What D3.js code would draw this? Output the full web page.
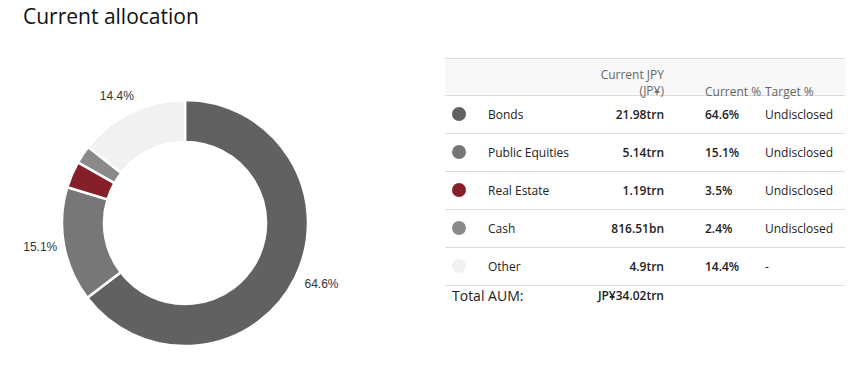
<!DOCTYPE html>
<html><head><meta charset="utf-8">
<script src="https://cdn.jsdelivr.net/npm/d3@7"></script>
<style>
body{margin:0;background:#fff;}
svg{display:block;}
</style></head>
<body><svg id="c" width="868" height="376"></svg>
<script>
const categories = ["Bonds","Public Equities","Real Estate","Cash","Other"];
const percents = [64.6, 15.1, 3.5, 2.4, 14.4];
const jpyValues = ["21.98trn","5.14trn","1.19trn","816.51bn","4.9trn"];
const targets = ["Undisclosed","Undisclosed","Undisclosed","Undisclosed","-"];
const colors = ["#616161","#777777","#85202a","#8a8a8a","#f1f1f1"];
const headers = ["Current JPY","(JP¥)","Current %","Target %"];
const totalLabel = "Total AUM:";
const totalValue = "JP¥34.02trn";
const title = "Current allocation";

const svg = d3.select("#c");
const font = "'Open Sans', 'Noto Sans', sans-serif";

svg.append("text").attr("x",23).attr("y",24).attr("font-family",font)
  .attr("font-size",21).attr("fill","#111").text(title);

// Donut
const cx=185, cy=223, R=123, r0=81;
const data = categories.map((c,i)=>({name:c,value:percents[i],color:colors[i]}));
const pie = d3.pie().sort(null).value(d=>d.value).startAngle(0).endAngle(2*Math.PI);
const arc = d3.arc().innerRadius(r0).outerRadius(R);
const g = svg.append("g").attr("transform",`translate(${cx},${cy})`);
const arcs = pie(data);
g.selectAll("path").data(arcs).join("path")
  .attr("d",arc).attr("fill",d=>d.data.color)
  .attr("stroke","#fff").attr("stroke-width",2.5);

const labelR = 140;
g.selectAll("text.lbl").data(arcs.filter(d=>d.data.value>=10)).join("text")
  .attr("class","lbl")
  .each(function(d){
    const a=(d.startAngle+d.endAngle)/2;
    const x=Math.sin(a)*labelR, y=-Math.cos(a)*labelR;
    const right = x>=0;
    d3.select(this).attr("x", right? x-6 : x+10).attr("y",y)
      .attr("text-anchor", right?"start":"end");
  })
  .attr("dominant-baseline","middle")
  .attr("font-family","'Liberation Sans', Arial, sans-serif")
  .attr("font-size",12).attr("fill","#333")
  .text(d=>d.data.value.toFixed(1)+"%");

// Table
const tx0=445, tx1=845, headTop=58, headBot=95, rowH=38;
svg.append("rect").attr("x",tx0).attr("y",headTop).attr("width",tx1-tx0).attr("height",headBot-headTop)
  .attr("fill","#f8f8f8");
svg.append("line").attr("x1",tx0).attr("x2",tx1).attr("y1",headTop+0.5).attr("y2",headTop+0.5).attr("stroke","#dcdcdc");
svg.append("line").attr("x1",tx0).attr("x2",tx1).attr("y1",headBot+0.5).attr("y2",headBot+0.5).attr("stroke","#dcdcdc");

const colJ=664, colP=705, colT=765;
const hs = svg.append("g").attr("font-family",font).attr("font-size",12).attr("fill","#666");
hs.append("text").attr("x",colJ).attr("y",76).attr("text-anchor","end").attr("dominant-baseline","middle").text(headers[0]);
hs.append("text").attr("x",colJ).attr("y",92).attr("text-anchor","end").attr("dominant-baseline","middle").text(headers[1]);
hs.append("text").attr("x",colP).attr("y",93).attr("dominant-baseline","middle").text(headers[2]);
hs.append("text").attr("x",colT).attr("y",93).attr("dominant-baseline","middle").text(headers[3]);

const yRow = d3.scaleBand().domain(categories).range([headBot, headBot+rowH*categories.length]);
const rows = svg.append("g").selectAll("g").data(data).join("g")
  .attr("transform",d=>`translate(0,${yRow(d.name)})`);
rows.append("line").attr("x1",tx0).attr("x2",tx1).attr("y1",rowH+0.5).attr("y2",rowH+0.5).attr("stroke","#dcdcdc");
rows.append("circle").attr("cx",459).attr("cy",rowH/2).attr("r",7).attr("fill",d=>d.color);
const ty = rowH/2+1.5;
const rt = rows.append("g").attr("font-family",font).attr("font-size",12).attr("fill","#222");
rt.append("text").attr("x",488).attr("y",ty).attr("dominant-baseline","middle").text(d=>d.name);
rt.append("text").attr("x",colJ).attr("y",ty).attr("text-anchor","end").attr("font-weight",600)
  .attr("dominant-baseline","middle").text((d,i)=>jpyValues[i]);
rt.append("text").attr("x",colP).attr("y",ty).attr("font-weight",600)
  .attr("dominant-baseline","middle").text(d=>d.value.toFixed(1)+"%");
rt.append("text").attr("x",colT).attr("y",ty)
  .attr("dominant-baseline","middle").text((d,i)=>targets[i]);

const totY = headBot+rowH*categories.length+12;
svg.append("text").attr("x",452).attr("y",totY).attr("dominant-baseline","middle")
  .attr("font-family",font).attr("font-size",14).attr("fill","#222").text(totalLabel);
svg.append("text").attr("x",colJ).attr("y",totY).attr("dominant-baseline","middle").attr("text-anchor","end")
  .attr("font-family",font).attr("font-size",12).attr("font-weight",600).attr("fill","#222").text(totalValue);
</script></body></html>
